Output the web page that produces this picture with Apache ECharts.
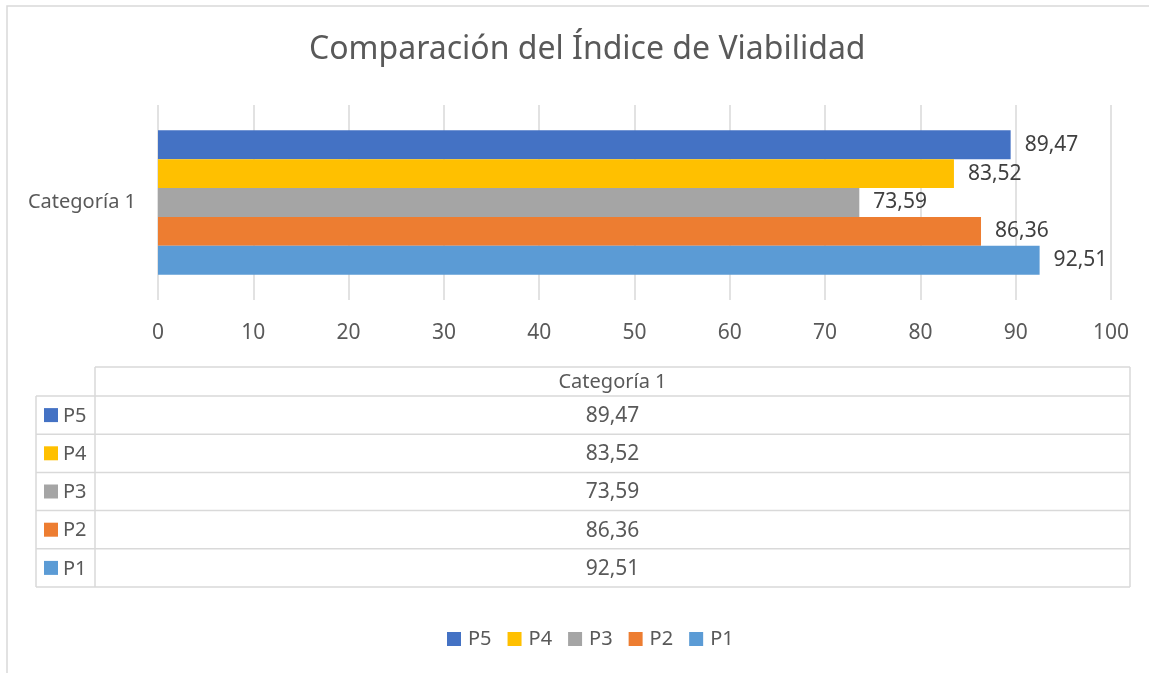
<!DOCTYPE html>
<html>
<head>
<meta charset="utf-8">
<script src="https://cdn.jsdelivr.net/npm/echarts@6/dist/echarts.min.js"></script>
<style>
  html, body { margin: 0; padding: 0; background: #fff; }
  #chart { width: 1149px; height: 673px; }
</style>
</head>
<body>
<div id="chart"></div>
<script>
const categories = ['Categoría 1'];
const seriesNames = ['P1', 'P2', 'P3', 'P4', 'P5'];
const seriesValues = [92.51, 86.36, 73.59, 83.52, 89.47];
const seriesColors = ['#5B9BD5', '#ED7D31', '#A5A5A5', '#FFC000', '#4472C4'];
const legendOrder = ['P5', 'P4', 'P3', 'P2', 'P1'];

const FONT = 'Noto Sans';
const fmt = v => v.toFixed(2).replace('.', ',');

const chart = echarts.init(document.getElementById('chart'));

// data table under the plot (Excel style)
const tbl = { left: 36, keyRight: 95, right: 1130, headTop: 367, headBottom: 396, rowH: 38.2 };
const line = '#D9D9D9';
const graphics = [];
graphics.push({
  type: 'rect', silent: true,
  shape: { x: 7, y: 6, width: 1160, height: 700 },
  style: { fill: 'none', stroke: line, lineWidth: 1.5 }
});
const rowsBottom = tbl.headBottom + tbl.rowH * legendOrder.length;
graphics.push({ type: 'line', shape: { x1: tbl.keyRight, y1: tbl.headTop, x2: tbl.right, y2: tbl.headTop }, style: { stroke: line, lineWidth: 1.5 } });
graphics.push({ type: 'line', shape: { x1: tbl.keyRight, y1: tbl.headTop, x2: tbl.keyRight, y2: rowsBottom }, style: { stroke: line, lineWidth: 1.5 } });
graphics.push({ type: 'line', shape: { x1: tbl.right, y1: tbl.headTop, x2: tbl.right, y2: rowsBottom }, style: { stroke: line, lineWidth: 1.5 } });
graphics.push({ type: 'line', shape: { x1: tbl.left, y1: tbl.headBottom, x2: tbl.left, y2: rowsBottom }, style: { stroke: line, lineWidth: 1.5 } });
graphics.push({
  type: 'text', silent: true,
  x: (tbl.keyRight + tbl.right) / 2, y: (tbl.headTop + tbl.headBottom) / 2 + 1,
  style: { text: categories[0], font: '20px ' + FONT, fill: '#595959', align: 'center', verticalAlign: 'middle' }
});
legendOrder.forEach((name, i) => {
  const idx = seriesNames.indexOf(name);
  const y0 = tbl.headBottom + tbl.rowH * i;
  const yc = y0 + tbl.rowH / 2;
  graphics.push({ type: 'line', shape: { x1: tbl.left, y1: y0, x2: tbl.right, y2: y0 }, style: { stroke: line, lineWidth: 1.5 } });
  graphics.push({ type: 'rect', shape: { x: 44, y: yc - 7, width: 14, height: 14 }, style: { fill: seriesColors[idx] } });
  graphics.push({
    type: 'text', silent: true, x: 63, y: yc + 1,
    style: { text: name, font: '20px ' + FONT, fill: '#595959', verticalAlign: 'middle' }
  });
  graphics.push({
    type: 'text', silent: true, x: (tbl.keyRight + tbl.right) / 2, y: yc + 1,
    style: { text: fmt(seriesValues[idx]), font: '21px ' + FONT, fill: '#595959', align: 'center', verticalAlign: 'middle' }
  });
});
graphics.push({ type: 'line', shape: { x1: tbl.left, y1: rowsBottom, x2: tbl.right, y2: rowsBottom }, style: { stroke: line, lineWidth: 1.5 } });

const option = {
  backgroundColor: '#fff',
  textStyle: { fontFamily: FONT },
  title: {
    text: 'Comparación del Índice de Viabilidad',
    left: 304,
    top: 29,
    textStyle: { fontFamily: FONT, fontSize: 32, fontWeight: 'normal', color: '#595959' }
  },
  legend: {
    data: legendOrder,
    bottom: 24,
    left: 447,
    padding: 0,
    icon: 'rect',
    itemWidth: 14,
    itemHeight: 14,
    itemGap: 16,
    textStyle: { fontFamily: FONT, fontSize: 20, color: '#595959', padding: [0, 0, 0, 2] }
  },
  grid: { left: 158, right: 38, top: 105, height: 195 },
  xAxis: {
    type: 'value',
    min: 0,
    max: 100,
    interval: 10,
    axisLine: { show: false },
    axisTick: { show: false },
    axisLabel: { fontFamily: FONT, fontSize: 21, color: '#595959', margin: 23 },
    splitLine: { lineStyle: { color: '#D9D9D9', width: 1.5 } }
  },
  yAxis: {
    type: 'category',
    data: categories,
    axisLine: { show: false },
    axisTick: { show: false },
    axisLabel: { fontFamily: FONT, fontSize: 20, color: '#595959', margin: 22 }
  },
  // first series is drawn at the top of the band, so follow the legend order
  series: legendOrder.map(name => {
    const i = seriesNames.indexOf(name);
    return {
      name: name,
      type: 'bar',
      data: [seriesValues[i]],
      barGap: '0%',
      barCategoryGap: '26%',
      itemStyle: { color: seriesColors[i] },
      label: {
        show: true,
        position: 'right',
        distance: 14,
        formatter: p => fmt(p.value),
        fontFamily: FONT,
        fontSize: 21,
        color: '#404040'
      }
    };
  }),
  graphic: graphics
};

chart.setOption(option);
</script>
</body>
</html>
